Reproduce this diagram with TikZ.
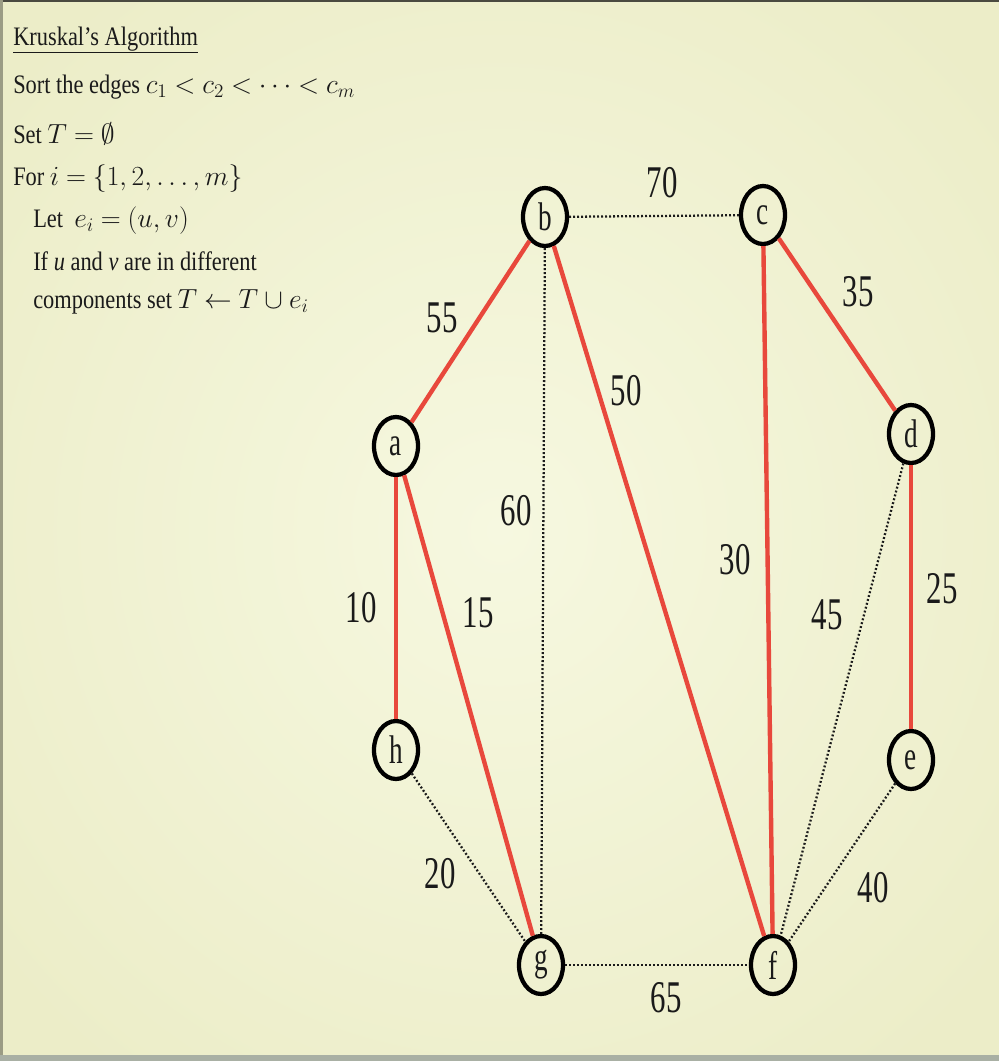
\documentclass[tikz,border=0pt]{standalone}
\usepackage{fontspec}
\setmainfont{Liberation Serif}[FakeStretch=0.84]
\newfontfamily\labfont{Liberation Serif}[FakeStretch=0.68]
\usetikzlibrary{shapes.geometric}
\thickmuskip=4.5mu plus 2mu
\definecolor{bgmid}{HTML}{F6F8E0}
\definecolor{bgout}{HTML}{ECEDC8}
\definecolor{mstred}{HTML}{E8483C}
\definecolor{ink}{HTML}{1A1A1A}
\definecolor{frame}{HTML}{4A4A40}
\definecolor{strip}{HTML}{A9B0A4}
\tikzset{
  vtx/.style={ellipse, draw=black, line width=3.2pt, minimum width=33pt,
    minimum height=43.5pt, inner sep=0pt,
    font=\labfont\fontsize{30}{30}\selectfont, text=ink},
  mst/.style={draw=mstred, line width=3.3pt},
  nonmst/.style={draw=ink, line width=1.7pt, dash pattern=on 1.4pt off 1.6pt},
  wlabel/.style={font=\labfont\fontsize{34}{34}\selectfont, inner sep=0pt, text=ink},
  algo/.style={anchor=base west, inner sep=0pt,
    font=\fontsize{20}{24}\selectfont, text=ink},
}
\begin{document}
\begin{tikzpicture}[x=0.75pt, y=-0.75pt]
\useasboundingbox (0,0) rectangle (999,1061);
% background
\shade[inner color=bgmid, outer color=bgout] (-150,-150) rectangle (1149,1211);
\fill[frame] (0,0) rectangle (999,2);
\fill[frame!50!bgout] (0,0) rectangle (2.5,1061);
\fill[strip] (0,1055) rectangle (999,1061);

% algorithm text
\node[algo] (title) at (13,45) {\underline{Kruskal’s Algorithm}};
\node[algo] (l1) at (13,93) {Sort the edges $c_1<c_2<\cdots<c_m$};
\node[algo] (l2) at (13,143) {Set $T=\emptyset$};
\node[algo] (l3) at (13,185) {For $i=\{1,2,\ldots,m\}$};
\node[algo] (l4) at (33,227) {Let\ \ $e_i=(u,v)$};
\node[algo] (l5) at (33,270) {If \textit{u} and \textit{v} are in different};
\node[algo] (l6) at (33,308) {components set $T\leftarrow T\cup e_i$};

% vertices
\node[vtx] (b) at (545,217) {b};
\node[vtx] (c) at (763,215) {c};
\node[vtx] (a) at (396,446) {a};
\node[vtx] (d) at (911,434) {d};
\node[vtx] (h) at (396,750) {h};
\node[vtx] (e) at (911,760) {e};
\node[vtx] (g) at (541,965) {g};
\node[vtx] (f) at (773,965) {f};

% edges not in tree
\draw[nonmst] (b) -- (c);
\draw[nonmst] (b) -- (g);
\draw[nonmst] (h) -- (g);
\draw[nonmst] (g) -- (f);
\draw[nonmst] (d) -- (f);
\draw[nonmst] (e) -- (f);
% tree edges
\draw[mst] (a) -- (b);
\draw[mst] (a) -- (h);
\draw[mst] (a) -- (g);
\draw[mst] (b) -- (f);
\draw[mst] (c) -- (f);
\draw[mst] (c) -- (d);
\draw[mst] (d) -- (e);

% weights
\node[wlabel] (w70) at (662,183) {70};
\node[wlabel] (w35) at (858,292) {35};
\node[wlabel] (w55) at (442,318) {55};
\node[wlabel] (w50) at (626,391) {50};
\node[wlabel] (w60) at (516,511) {60};
\node[wlabel] (w30) at (735,560) {30};
\node[wlabel] (w45) at (827,615) {45};
\node[wlabel] (w25) at (942,589) {25};
\node[wlabel] (w10) at (361,608) {10};
\node[wlabel] (w15) at (478,613) {15};
\node[wlabel] (w20) at (440,874) {20};
\node[wlabel] (w40) at (873,888) {40};
\node[wlabel] (w65) at (666,998) {65};
\end{tikzpicture}
\end{document}
